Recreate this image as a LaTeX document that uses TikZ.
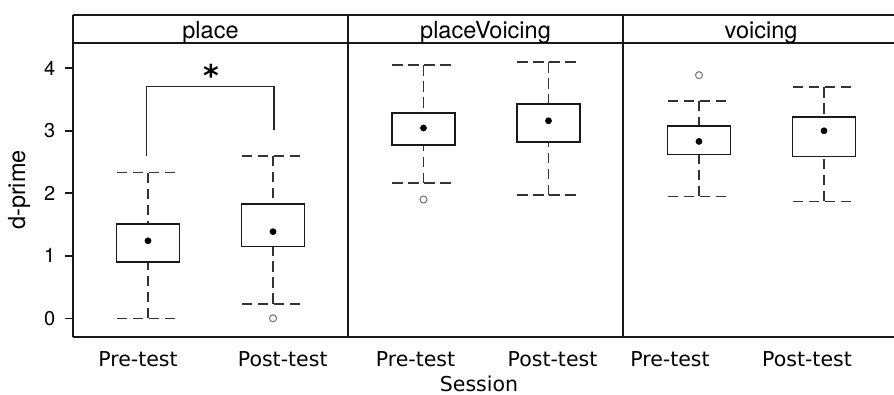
\documentclass[tikz,border=0pt]{standalone}
\usepackage{fontspec}
\setmainfont{TeX Gyre Heros}
\newfontfamily\dvs{DejaVu Sans}
\newcommand{\bwplot}[6]{% cx, lo, q1, med, q3, hi
  \draw[whisk] (#1,{318.3-62.5*(#6)}) -- (#1,{318.3-62.5*(#5)});
  \draw[whisk] (#1,{318.3-62.5*(#2)}) -- (#1,{318.3-62.5*(#3)});
  \draw[whisk] ({#1-31.5},{318.3-62.5*(#6)}) -- ({#1+31.5},{318.3-62.5*(#6)});
  \draw[whisk] ({#1-31.5},{318.3-62.5*(#2)}) -- ({#1+31.5},{318.3-62.5*(#2)});
  \draw[boxst] ({#1-31.5},{318.3-62.5*(#3)}) rectangle ({#1+31.5},{318.3-62.5*(#5)});
  \fill[meddot] (#1,{318.3-62.5*(#4)}) circle (3.4);
}
\newcommand{\outpt}[2]{\draw[outl] (#1,{318.3-62.5*(#2)}) circle (3.5);}
\begin{document}
\begin{tikzpicture}[x=1pt,y=-1pt,
  frame/.style={line width=1.6pt, draw=black!90},
  whisk/.style={line width=1.6pt, draw=black!80, dash pattern=on 10.5pt off 5.5pt},
  boxst/.style={line width=1.6pt, draw=black!90, fill=white},
  meddot/.style={fill=black},
  outl/.style={draw=black!55, line width=1pt, fill=white},
  striplab/.style={font=\fontsize{23.5}{24}\selectfont, anchor=base, inner sep=0pt},
  ticklab/.style={font=\fontsize{20}{20}\selectfont, anchor=east, inner sep=0pt},
  xlab/.style={font=\dvs\fontsize{20.5}{21}\selectfont, anchor=base, inner sep=0pt},
  brk/.style={line width=1.1pt, draw=black!85}]
\useasboundingbox (0,0) rectangle (894,395);
% panel frames and strips
\draw[frame] (73,15) -- (898,15);
\draw[frame] (73,43) -- (898,43);
\draw[frame] (73,337) -- (898,337);
\draw[frame] (73,15) -- (73,337);
\draw[frame] (348,15) -- (348,337);
\draw[frame] (623,15) -- (623,337);
\draw[frame] (898,15) -- (898,337);
\node[striplab] (s1) at (210.5,38.3) {place};
\node[striplab] (s2) at (485.5,38.3) {placeVoicing};
\node[striplab] (s3) at (761,38.3) {voicing};
% y axis
\foreach \v in {0,...,4}{
  \draw[frame] (65,{318.3-62.5*\v}) -- (73,{318.3-62.5*\v});
  \node[ticklab] at (55.5,{318.3-62.5*\v}) {\v};
}
\node[font=\fontsize{23.5}{24}\selectfont, rotate=90, anchor=base, inner sep=0pt] (ylab) at (25,190) {d-prime};
% boxes
\bwplot{148}{0}{0.896}{1.24}{1.504}{2.33}
\bwplot{273}{0.229}{1.146}{1.386}{1.824}{2.60}
\outpt{273}{0}
\bwplot{423.5}{2.16}{2.77}{3.045}{3.28}{4.05}
\outpt{423.5}{1.90}
\bwplot{548.5}{1.97}{2.82}{3.16}{3.43}{4.10}
\bwplot{699}{1.95}{2.62}{2.83}{3.08}{3.48}
\outpt{699}{3.89}
\bwplot{824}{1.87}{2.59}{3.0}{3.22}{3.70}
% significance bracket
\draw[brk] (146.7,{318.3-62.5*2.6}) -- (146.7,{318.3-62.5*3.71}) -- (274,{318.3-62.5*3.71}) -- (274,{318.3-62.5*3.02});
\node[font=\dvs\bfseries\fontsize{30}{30}\selectfont, anchor=base, inner sep=0pt] (star) at (211,87) {*};
% x labels
\node[xlab] (x1) at (138,366) {Pre-test};
\node[xlab] (x2) at (282.7,366) {Post-test};
\node[xlab] (x3) at (415.5,366) {Pre-test};
\node[xlab] (x4) at (552.5,366) {Post-test};
\node[xlab] (x5) at (670,366) {Pre-test};
\node[xlab] (x6) at (807,366) {Post-test};
\node[xlab] (sess) at (479,391) {Session};
\end{tikzpicture}
\end{document}
